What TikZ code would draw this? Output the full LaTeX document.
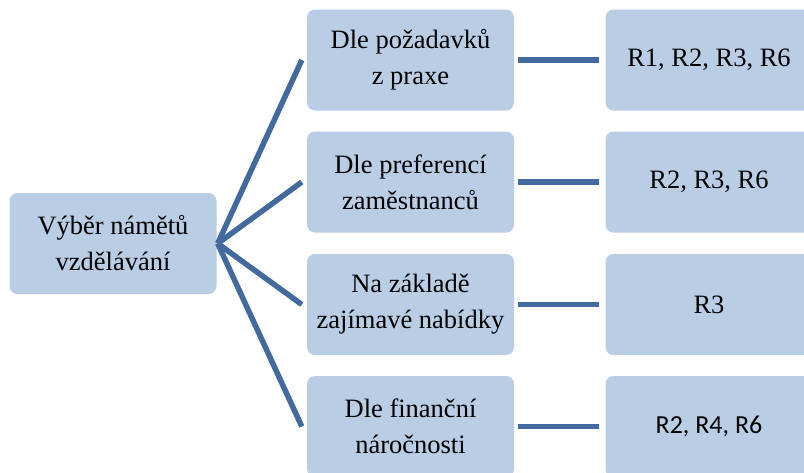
\documentclass[tikz,border=0pt]{standalone}
\usepackage{fontspec}
\setmainfont{Liberation Serif}
\newfontfamily\calfont{Carlito}
\definecolor{boxfill}{RGB}{185,205,229}
\definecolor{linkcol}{RGB}{66,106,158}
\tikzset{
  box/.style={draw=none, fill=boxfill, rounded corners=8pt, minimum width=207pt, minimum height=101pt,
    inner sep=0pt, align=center, font=\fontsize{26.5}{36}\selectfont},
  link/.style={draw=linkcol, line width=5.5pt}
}
\begin{document}
\begin{tikzpicture}[x=1pt,y=-1pt]
\useasboundingbox (0,0) rectangle (804,472);
\clip (0,0) rectangle (804,472);
\node[box] (L) at (113,243.5) {Výběr námětů\\vzdělávání};
\node[box] (M1) at (410.5,60) {Dle požadavků\\z praxe};
\node[box] (M2) at (410.5,182) {Dle preferencí\\zaměstnanců};
\node[box] (M3) at (410.5,304.5) {Na základě\\zajímavé nabídky};
\node[box] (M4) at (410.5,426.5) {Dle finanční\\náročnosti};
\node[box] (R1) at (709,60) {R1, R2, R3, R6};
\node[box] (R2) at (709,182) {R2, R3, R6};
\node[box] (R3) at (709,304.5) {R3};
\node[box, font=\calfont\fontsize{26}{36}\selectfont] (R4) at (709,426.5) {R2, R4, R6};
\foreach \m in {M1,M2,M3,M4}{
  \draw[link] ([xshift=1pt]L.east) -- ([xshift=-5pt]\m.west);
}
\foreach \m/\r in {M1/R1,M2/R2,M3/R3,M4/R4}{
  \draw[link] ([xshift=4pt]\m.east) -- ([xshift=-6pt]\r.west);
}
\end{tikzpicture}
\end{document}
